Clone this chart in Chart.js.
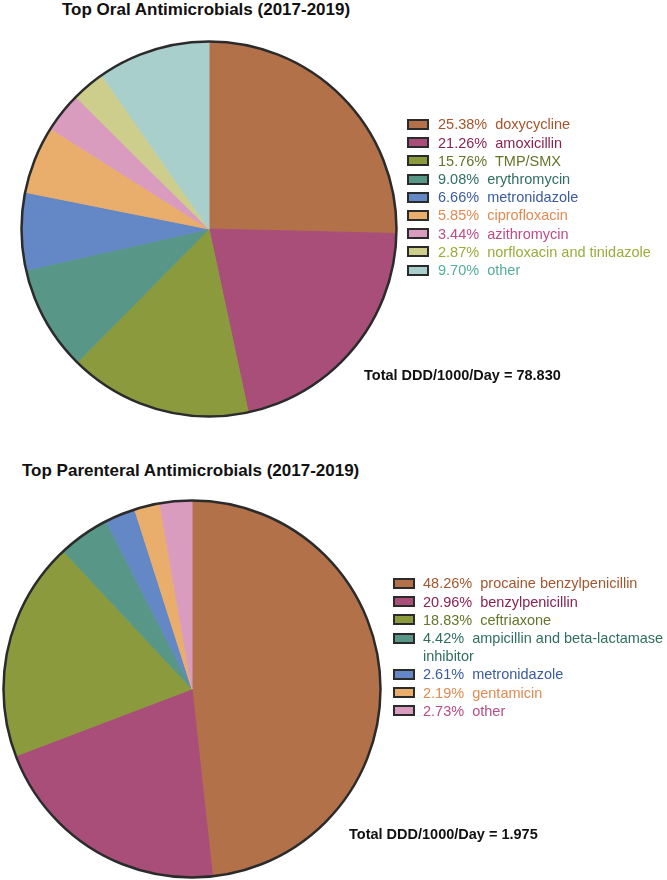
<!DOCTYPE html>
<html>
<head>
<meta charset="utf-8">
<script src="https://cdn.jsdelivr.net/npm/chart.js@4.4.1/dist/chart.umd.min.js"></script>
<style>
  html, body { margin: 0; padding: 0; background: #ffffff; }
  body { width: 667px; height: 880px; position: relative; overflow: hidden;
         font-family: "Liberation Sans", Arial, Helvetica, sans-serif; }
  canvas { position: absolute; left: 0; }
  .title { position: absolute; font-weight: bold; font-size: 17px; line-height: 1; color: #111; white-space: nowrap; }
  .total { position: absolute; font-weight: bold; font-size: 14.5px; line-height: 1; color: #111; white-space: nowrap; }
  .legend { position: absolute; font-size: 14.5px; line-height: 18.2px; }
  .row { display: flex; align-items: flex-start; }
  .box { flex: none; width: 22px; height: 11px; margin-top: 3.6px; box-sizing: border-box;
         border: 2px solid #2b2b2b; }
  .txt { white-space: pre-wrap; width: 250px; }
</style>
</head>
<body>
<div class="title" id="t1" style="left:62px; top:0.5px;"></div>
<canvas id="c1" width="667" height="450" style="top:0px; width:667px; height:450px;"></canvas>
<div class="legend" id="l1" style="left:407px; top:115.4px;"></div>
<div class="total" id="d1" style="left:364px; top:367.7px;"></div>

<div class="title" id="t2" style="left:22px; top:461.6px;"></div>
<canvas id="c2" width="667" height="430" style="top:450px; width:667px; height:430px;"></canvas>
<div class="legend" id="l2" style="left:393px; top:574.4px;"></div>
<div class="total" id="d2" style="left:349px; top:827px;"></div>

<script>
// ---------- data ----------
const oralTitle = "Top Oral Antimicrobials (2017-2019)";
const oralLabels = ["doxycycline", "amoxicillin", "TMP/SMX", "erythromycin", "metronidazole",
                    "ciprofloxacin", "azithromycin", "norfloxacin and tinidazole", "other"];
const oralValues = [25.38, 21.26, 15.76, 9.08, 6.66, 5.85, 3.44, 2.87, 9.70];
const oralTotal = "Total DDD/1000/Day = 78.830";

const parTitle = "Top Parenteral Antimicrobials (2017-2019)";
const parLabels = ["procaine benzylpenicillin", "benzylpenicillin", "ceftriaxone",
                   "ampicillin and beta-lactamase inhibitor", "metronidazole", "gentamicin", "other"];
const parValues = [48.26, 20.96, 18.83, 4.42, 2.61, 2.19, 2.73];
const parTotal = "Total DDD/1000/Day = 1.975";

// ---------- colours ----------
const oralFill = ["#B3714A", "#A84E78", "#8A9A3D", "#589787", "#6488C6",
                  "#E9AE6B", "#D99CBE", "#CDCE8B", "#A9CFCC"];
const oralText = ["#A5552C", "#8A2152", "#65752A", "#2F6F5E", "#3A5B9E",
                  "#E28A52", "#BC4C88", "#98AD3A", "#52AE98"];
const parFill = ["#B3714A", "#A84E78", "#8A9A3D", "#589787", "#6488C6", "#E9AE6B", "#D99CBE"];
const parText = ["#A5552C", "#8A2152", "#65752A", "#2F6F5E", "#3A5B9E", "#E28A52", "#B84C86"];

// ---------- outer ring plugin (uses library's arc geometry) ----------
const outerRing = {
  id: 'outerRing',
  afterDatasetsDraw(chart) {
    const arc = chart.getDatasetMeta(0).data[0];
    if (!arc) return;
    const p = arc.getProps(['x', 'y', 'outerRadius'], true);
    const ctx = chart.ctx;
    ctx.save();
    ctx.beginPath();
    ctx.arc(p.x, p.y, p.outerRadius, 0, Math.PI * 2);
    ctx.lineWidth = 2.5;
    ctx.strokeStyle = '#2b2b2b';
    ctx.stroke();
    ctx.restore();
  }
};

function makePie(id, labels, values, fills, padding) {
  return new Chart(document.getElementById(id), {
    type: 'pie',
    data: {
      labels: labels,
      datasets: [{
        data: values,
        backgroundColor: fills,
        borderColor: fills,
        borderWidth: 1
      }]
    },
    options: {
      responsive: false,
      animation: false,
      layout: { padding: padding },
      plugins: { legend: { display: false }, tooltip: { enabled: false }, title: { display: false } }
    },
    plugins: [outerRing]
  });
}

function makeLegend(id, labels, values, fills, texts) {
  const el = document.getElementById(id);
  labels.forEach((lab, i) => {
    const row = document.createElement('div');
    row.className = 'row';
    const box = document.createElement('div');
    box.className = 'box';
    box.style.background = fills[i];
    box.style.marginRight = (id === 'l1' ? 9 : 8) + 'px';
    const t = document.createElement('div');
    t.className = 'txt';
    t.style.color = texts[i];
    t.textContent = values[i].toFixed(2) + '%\u00a0 ' + lab;
    row.appendChild(box);
    row.appendChild(t);
    el.appendChild(row);
  });
}

document.getElementById('t1').textContent = oralTitle;
document.getElementById('d1').textContent = oralTotal;
document.getElementById('t2').textContent = parTitle;
document.getElementById('d2').textContent = parTotal;

makePie('c1', oralLabels, oralValues, oralFill, { left: 21, right: 270, top: 41, bottom: 33 });
makePie('c2', parLabels, parValues, parFill, { left: 3, right: 286, top: 50, bottom: 2 });
makeLegend('l1', oralLabels, oralValues, oralFill, oralText);
makeLegend('l2', parLabels, parValues, parFill, parText);
</script>
</body>
</html>
